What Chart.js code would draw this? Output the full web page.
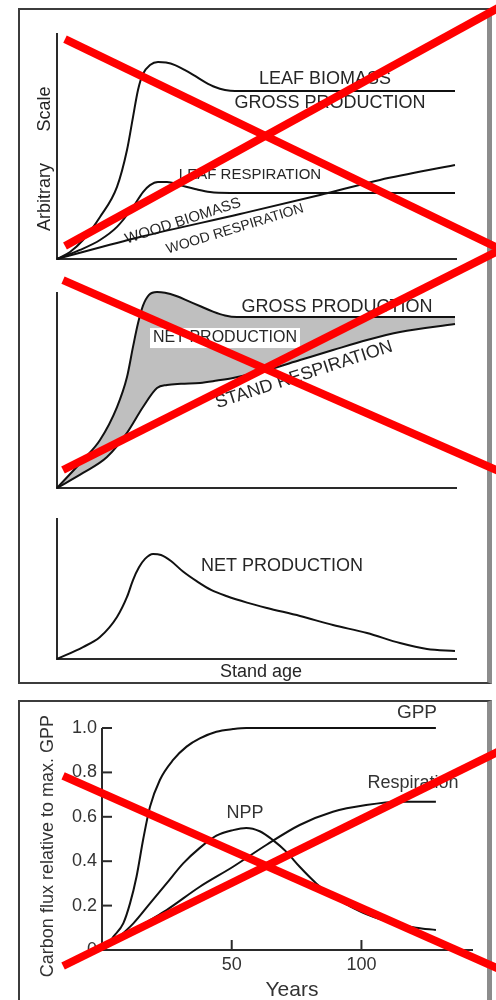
<!DOCTYPE html>
<html>
<head>
<meta charset="utf-8">
<title>Stand age and carbon flux</title>
<script src="https://cdn.jsdelivr.net/npm/chart.js@4.4.1/dist/chart.umd.min.js"></script>
<style>
  body { margin: 0; background: #fff; }
  #page { position: relative; width: 496px; height: 1000px; overflow: hidden; }
  .box { position: absolute; box-sizing: border-box; border: 2px solid #3c3c3c; border-right: 5px solid #8c8c8c; }
  canvas { position: absolute; left: 0; }
</style>
</head>
<body>
<div id="page">
  <div class="box" style="left:18px; top:8px; width:474px; height:676px;"></div>
  <div class="box" style="left:18px; top:700px; width:474px; height:320px; border-bottom:none;"></div>
  <canvas id="panel1" width="496" height="262" style="top:0"></canvas>
  <canvas id="panel2" width="496" height="250" style="top:240px"></canvas>
  <canvas id="panel3" width="496" height="200" style="top:490px"></canvas>
  <canvas id="panel4" width="496" height="310" style="top:690px"></canvas>
</div>
<script>
// ---- top figure, arbitrary units (stand age 0-100, scale 0-100) ----
const leafBioX = [0, 3.25, 6.5, 10.75, 15, 17.5, 19, 20.25, 21.5, 23.25, 25.25, 27.25, 29.5, 32, 34.5, 37, 39.5, 42, 44.5, 99.5];
const leafBioY = [0, 3.1, 8.4, 18.6, 31.9, 48.2, 62.8, 74.8, 81.9, 85.8, 87.2, 86.9, 85.8, 83.6, 81, 78.3, 76.1, 74.8, 74.3, 74.3];
const leafRespX = [0, 5.75, 10.75, 15, 19, 21.5, 23.25, 25.25, 27.5, 30.75, 34.5, 38.25, 43.25, 99.5];
const leafRespY = [0, 4, 8.4, 14.2, 23, 29.6, 32.7, 34.1, 34.1, 32.7, 31, 29.6, 29.2, 29.2];
const woodX = [0, 20.75, 45.75, 65.75, 80.75, 99.5];
const woodY = [0, 9.7, 19.9, 28.3, 35, 41.6];

const grossX = [0, 6.5, 10.75, 15, 17.5, 19, 20.25, 21.5, 23, 25, 27, 30, 33, 36, 39, 42, 45, 99.5];
const grossY = [0, 14.3, 24.5, 41.3, 56.6, 72, 84, 93, 98.5, 100, 99.6, 97.8, 95.2, 92.6, 90, 88, 87.2, 87.2];
const standRespX = [0, 6.5, 12.5, 17.5, 21.5, 25, 27.5, 31, 35.75, 40, 44, 52.5, 60.75, 69, 77.5, 85.75, 99.5];
const standRespY = [0, 7.7, 15.8, 28.1, 41.3, 51, 52.6, 53.2, 53.6, 54.8, 56.1, 60.2, 65.3, 70.4, 75.5, 79.6, 83.7];

const netX = [0, 6.5, 10.75, 15, 17.5, 19, 20.5, 22, 24, 26, 28.5, 31.5, 35, 38.5, 42.5, 47.5, 52.5, 60.75, 69, 77.5, 85.75, 92.5, 99.5];
const netY = [0, 8.5, 15.6, 29.8, 44, 56, 65, 71, 74.5, 73.8, 69.5, 62, 55, 49, 44.5, 40, 36.2, 30.5, 24.1, 18.4, 11.3, 7.1, 5.7];

// ---- bottom figure, years vs fraction of max GPP ----
const gppYears = [0, 2, 4.4, 8.2, 10.8, 13.3, 15.9, 18.5, 22.3, 27.4, 32.6, 37.7, 44.1, 50.5, 55.6, 128.7];
const gppVals = [0, 0.02, 0.06, 0.12, 0.21, 0.33, 0.5, 0.645, 0.766, 0.856, 0.916, 0.953, 0.983, 0.995, 1.0, 1.0];
const nppYears = [0, 5.6, 12.1, 18.5, 24.9, 31.3, 37.7, 44.1, 50.5, 55.6, 60.8, 65.9, 71, 76.2, 82.6, 89, 95.4, 101.8, 108.2, 114.6, 121, 128.7];
const nppVals = [0, 0.05, 0.12, 0.21, 0.30, 0.39, 0.46, 0.515, 0.54, 0.55, 0.535, 0.495, 0.443, 0.375, 0.30, 0.24, 0.198, 0.162, 0.135, 0.116, 0.10, 0.09];
const respYears = [0, 5.6, 12.1, 18.5, 24.9, 37.7, 50.5, 63.3, 76.2, 89, 101.8, 114.6, 128.7];
const respVals = [0, 0.04, 0.09, 0.135, 0.18, 0.285, 0.375, 0.473, 0.563, 0.623, 0.653, 0.668, 0.668];

const yTicks = [0, 0.2, 0.4, 0.6, 0.8, 1.0];
const yTickLabels = ['0', '0.2', '0.4', '0.6', '0.8', '1.0'];
const xTicks = [50, 100];
const xTickLabels = ['50', '100'];

// red crossing-out strokes, in each panel's own units
const crossTopX = [2, 111];
const crossTopA = [97.3, 4.2];
const crossTopB = [5.75, 111.8];
const crossMidX = [1.5, 111];
const crossMidA = [106.1, 8.1];
const crossMidB = [9.2, 121.7];
const crossLowX = [-15, 154];
const crossLowA = [0.784, -0.09];
const crossLowB = [-0.072, 0.901];

const FONT = "'Liberation Sans', Arial, Helvetica, sans-serif";

function pts(xs, ys) {
    return xs.map((x, i) => ({ x: x, y: ys[i] }));
}

function curva(xs, ys, extra) {
    return Object.assign({
        data: pts(xs, ys),
        borderColor: '#111',
        borderWidth: 2,
        pointRadius: 0,
        cubicInterpolationMode: 'monotone',
        fill: false,
        clip: false,
    }, extra || {});
}

function cruz(xs, ys) {
    return {
        data: pts(xs, ys),
        borderColor: '#ff0000',
        borderWidth: 8,
        pointRadius: 0,
        tension: 0,
        fill: false,
        clip: false,
        order: -1,
    };
}

// axes, inward ticks and the hand-placed labels, drawn through the scales
const dibujo = {
    id: 'dibujo',
    beforeDatasetsDraw(chart, args, o) {
        const ctx = chart.ctx;
        const x = chart.scales.x, y = chart.scales.y;
        const x0 = x.getPixelForValue(x.min), y0 = y.getPixelForValue(y.min);
        ctx.save();
        ctx.strokeStyle = '#2a2a2a';
        ctx.lineWidth = o.axisWidth;
        ctx.beginPath();
        ctx.moveTo(x0, y.getPixelForValue(y.max));
        ctx.lineTo(x0, y0);
        ctx.lineTo(x.getPixelForValue(x.max), y0);
        ctx.stroke();

        (o.yTicks || []).forEach(v => {
            if (v === y.min) return;
            const p = y.getPixelForValue(v);
            ctx.beginPath();
            ctx.moveTo(x0, p);
            ctx.lineTo(x0 + o.tickLen, p);
            ctx.stroke();
        });
        (o.xTicks || []).forEach(v => {
            const p = x.getPixelForValue(v);
            ctx.beginPath();
            ctx.moveTo(p, y0);
            ctx.lineTo(p, y0 - o.tickLen);
            ctx.stroke();
        });

        (o.texts || []).forEach(t => {
            ctx.save();
            ctx.translate(x.getPixelForValue(t.x), y.getPixelForValue(t.y));
            ctx.rotate((t.rot || 0) * Math.PI / 180);
            ctx.font = (t.size || 18) + 'px ' + FONT;
            ctx.textAlign = t.align || 'center';
            ctx.textBaseline = 'middle';
            if (t.box) {
                const w = ctx.measureText(t.text).width;
                ctx.fillStyle = '#fff';
                ctx.fillRect(-w / 2 - 3, -10, w + 6, 20);
            }
            ctx.fillStyle = t.color || '#262626';
            ctx.fillText(t.text, 0, 0);
            ctx.restore();
        });
        ctx.restore();
    }
};

function opciones(pad, xMax, yMax, dib) {
    return {
        responsive: false,
        animation: false,
        events: [],
        layout: { padding: pad },
        scales: {
            x: { type: 'linear', min: 0, max: xMax, display: false },
            y: { type: 'linear', min: 0, max: yMax, display: false },
        },
        plugins: {
            legend: { display: false },
            tooltip: { enabled: false },
            filler: { drawTime: 'beforeDatasetsDraw' },
            dibujo: dib,
        },
    };
}

// panel 1: biomass and respiration
new Chart(document.getElementById('panel1'), {
    type: 'line',
    data: {
        datasets: [
            curva(leafBioX, leafBioY),
            curva(leafRespX, leafRespY),
            curva(woodX, woodY),
            cruz(crossTopX, crossTopA),
            cruz(crossTopX, crossTopB),
        ]
    },
    options: opciones({ left: 57, right: 39, top: 33, bottom: 3 }, 100, 100, {
        axisWidth: 2,
        texts: [
            { text: 'LEAF BIOMASS', x: 67, y: 79.6 },
            { text: 'GROSS PRODUCTION', x: 68.25, y: 69 },
            { text: 'LEAF RESPIRATION', x: 48.25, y: 37.2, size: 15 },
            { text: 'WOOD BIOMASS', x: 31.5, y: 16.8, size: 15, rot: -18 },
            { text: 'WOOD RESPIRATION', x: 44.5, y: 13.3, size: 14, rot: -17 },
            { text: 'Scale', x: -3, y: 66.4, rot: -90 },
            { text: 'Arbitrary', x: -3, y: 27.4, rot: -90 },
        ]
    }),
    plugins: [dibujo]
});

// panel 2: gross production vs stand respiration, net production shaded
new Chart(document.getElementById('panel2'), {
    type: 'line',
    data: {
        datasets: [
            curva(grossX, grossY, { fill: '+1', backgroundColor: '#bfbfbf' }),
            curva(standRespX, standRespY),
            cruz(crossMidX, crossMidA),
            cruz(crossMidX, crossMidB),
        ]
    },
    options: opciones({ left: 57, right: 39, top: 52, bottom: 2 }, 100, 100, {
        axisWidth: 2,
        texts: [
            { text: 'GROSS PRODUCTION', x: 70, y: 92.3 },
            { text: 'NET PRODUCTION', x: 42, y: 76.5, size: 16, box: true },
            { text: 'STAND RESPIRATION', x: 61.75, y: 57.7, rot: -18 },
        ]
    }),
    plugins: [dibujo]
});

// panel 3: net production
new Chart(document.getElementById('panel3'), {
    type: 'line',
    data: {
        datasets: [curva(netX, netY)]
    },
    options: opciones({ left: 57, right: 39, top: 28, bottom: 31 }, 100, 100, {
        axisWidth: 2,
        texts: [
            { text: 'NET PRODUCTION', x: 56.25, y: 66 },
            { text: 'Stand age', x: 51, y: -9.2 },
        ]
    }),
    plugins: [dibujo]
});

// bottom figure: carbon flux relative to max GPP
const tickTexts = yTicks.map((v, i) => ({ text: yTickLabels[i], x: -1.93, y: v, align: 'right', color: '#333' }))
    .concat(xTicks.map((v, i) => ({ text: xTickLabels[i], x: v, y: -0.0676, color: '#333' })));

new Chart(document.getElementById('panel4'), {
    type: 'line',
    data: {
        datasets: [
            curva(gppYears, gppVals),
            curva(nppYears, nppVals),
            curva(respYears, respVals),
            cruz(crossLowX, crossLowA),
            cruz(crossLowX, crossLowB),
        ]
    },
    options: opciones({ left: 102, right: 23, top: 38, bottom: 50 }, 143, 1, {
        axisWidth: 2,
        tickLen: 10,
        yTicks: yTicks,
        xTicks: xTicks,
        texts: tickTexts.concat([
            { text: 'GPP', x: 121.4, y: 1.068, size: 19, color: '#333' },
            { text: 'Respiration', x: 119.9, y: 0.752, color: '#333' },
            { text: 'NPP', x: 55.1, y: 0.617, color: '#333' },
            { text: 'Years', x: 73.2, y: -0.18, size: 21, color: '#333' },
            { text: 'Carbon flux relative to max. GPP', x: -20.8, y: 0.468, rot: -90, color: '#333' },
        ])
    }),
    plugins: [dibujo]
});
</script>
</body>
</html>
